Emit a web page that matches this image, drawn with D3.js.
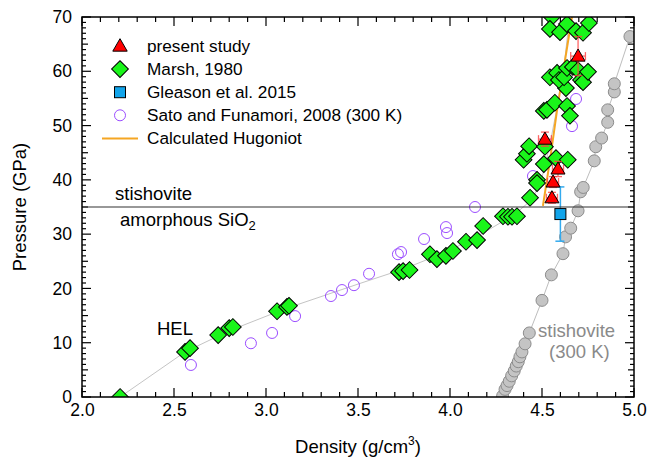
<!DOCTYPE html>
<html>
<head>
<meta charset="utf-8">
<script src="https://cdn.jsdelivr.net/npm/d3@7"></script>
</head>
<body style="margin:0">
<div id="chart"></div>
<script>
// present study (density, pressure, errD, errP)
const presentDensity = [4.696, 4.516, 4.587, 4.560, 4.554];
const presentPressure = [62.8, 47.5, 42.0, 39.6, 36.7];
const presentErrD = [0.04, 0.035, 0.03, 0.03, 0.03];
const presentErrP = [3.6, 1.3, 1.4, 1.0, 1.0];

// Marsh, 1980
const marshDensity = [2.207, 2.56, 2.587, 2.74, 2.80, 2.82, 3.06, 3.114, 3.125,
  3.723, 3.745, 3.78, 3.891, 3.929, 3.978, 4.016, 4.087, 4.147, 4.18,
  4.288, 4.315, 4.337, 4.364, 4.435, 4.473, 4.473, 4.40, 4.418, 4.43,
  4.516, 4.51, 4.576, 4.64, 4.51, 4.527, 4.57, 4.636, 4.652, 4.63,
  4.543, 4.582, 4.592, 4.62, 4.636, 4.668, 4.696, 4.712, 4.723, 4.75,
  4.554, 4.543, 4.598, 4.636, 4.685, 4.723, 4.755];
const marshPressure = [0, 8.3, 9.0, 11.4, 12.7, 12.9, 15.8, 16.6, 16.8,
  23.0, 23.2, 23.4, 26.3, 25.4, 26.0, 26.9, 28.6, 28.9, 31.5,
  33.3, 33.2, 33.2, 33.3, 36.7, 40.0, 39.4, 43.7, 44.8, 46.2,
  46.1, 42.9, 44.0, 43.7, 52.7, 52.9, 54.2, 53.6, 51.8, 56.9,
  58.9, 59.7, 58.4, 58.9, 60.6, 60.8, 60.2, 58.4, 58.0, 59.9,
  70.0, 67.8, 67.2, 68.7, 67.4, 67.1, 68.9];

// Gleason et al. 2015
const gleasonDensity = [4.60];
const gleasonPressure = [33.7];
const gleasonErrP = [5.0];

// Sato and Funamori, 2008 (300 K)
const satoDensity = [2.592, 2.918, 3.033, 3.158, 3.353, 3.413, 3.478, 3.56, 3.717,
  3.734, 3.859, 3.978, 3.984, 4.136, 4.451, 4.663, 4.685];
const satoPressure = [5.9, 9.9, 11.8, 14.9, 18.6, 19.7, 20.6, 22.7, 26.3,
  26.7, 29.1, 31.3, 30.2, 35.0, 40.7, 49.9, 54.9];

// stishovite (300 K)
const stishDensity = [4.286, 4.299, 4.31, 4.322, 4.335, 4.349, 4.36, 4.371, 4.38,
  4.391, 4.408, 4.431, 4.50, 4.551, 4.614, 4.628, 4.656, 4.696, 4.710,
  4.724, 4.784, 4.792, 4.824, 4.857, 4.857, 4.893, 4.893, 4.978];
const stishPressure = [0.2, 1.4, 2.1, 2.9, 3.9, 4.8, 5.7, 6.5, 7.4,
  8.3, 9.8, 11.8, 17.8, 22.5, 26.4, 29.5, 31.1, 34.3, 37.8,
  38.6, 43.5, 46.1, 47.7, 50.6, 52.9, 56.2, 57.7, 66.4];

// guide line through Marsh data
const fitDensity = [2.207, 2.56, 2.80, 3.10, 3.50, 3.75, 4.00, 4.20, 4.35, 4.45, 4.50, 4.54, 4.58, 4.62, 4.65];
const fitPressure = [0, 8.3, 12.2, 16.2, 20.8, 23.6, 27.0, 30.6, 33.6, 36.5, 40.5, 46, 53, 61, 70];

// Calculated Hugoniot
const hugDensity = [4.505, 4.545, 4.582, 4.625, 4.663];
const hugPressure = [35.2, 44.0, 52.9, 62.0, 70.0];

const phaseP = 35;
const xTicks = [2.0, 2.5, 3.0, 3.5, 4.0, 4.5, 5.0];
const yTicks = [0, 10, 20, 30, 40, 50, 60, 70];

const W = 647, H = 458;
const ml = 82, mt = 17;
const iw = 552, ih = 380;
const FONT = "Liberation Sans, Arial, Helvetica, sans-serif";

const svg = d3.select("#chart").append("svg").attr("width", W).attr("height", H)
  .attr("font-family", FONT);
const g = svg.append("g").attr("transform", `translate(${ml},${mt})`);

const x = d3.scaleLinear().domain([2, 5]).range([0, iw]);
const y = d3.scaleLinear().domain([0, 70]).range([ih, 0]);

// inward ticks on all four sides
const xMinor = d3.range(20, 51).map(v => v / 10).filter(v => Math.round(v * 10) % 5 !== 0);
const yMinor = d3.range(0, 71).filter(v => v % 5 !== 0);
const yMid = [5, 15, 25, 35, 45, 55, 65];
const tickGroup = g.append("g");
function tickSet(vals, len, side) {
  const sel = tickGroup.selectAll(null).data(vals).enter().append("line")
    .attr("stroke", "#000").attr("stroke-width", 1.2);
  if (side === "bottom") sel.attr("x1", d => x(d)).attr("x2", d => x(d)).attr("y1", ih).attr("y2", ih - len);
  if (side === "top") sel.attr("x1", d => x(d)).attr("x2", d => x(d)).attr("y1", 0).attr("y2", len);
  if (side === "left") sel.attr("x1", 0).attr("x2", len).attr("y1", d => y(d)).attr("y2", d => y(d));
  if (side === "right") sel.attr("x1", iw).attr("x2", iw - len).attr("y1", d => y(d)).attr("y2", d => y(d));
}
tickSet(xTicks, 9, "bottom"); tickSet(xMinor, 5, "bottom");
tickSet(xTicks, 9, "top"); tickSet(xMinor, 5, "top");
tickSet(yTicks, 9, "left"); tickSet(yMid, 6, "left"); tickSet(yMinor, 4, "left");
tickSet(yTicks, 9, "right"); tickSet(yMid, 6, "right"); tickSet(yMinor, 4, "right");

const zip = (a, b) => a.map((v, i) => [v, b[i]]);
const lineGen = d3.line().x(d => x(d[0])).y(d => y(d[1]));

svg.append("defs").append("clipPath").attr("id", "plotclip")
  .append("rect").attr("width", iw).attr("height", ih);
const plot = g.append("g").attr("clip-path", "url(#plotclip)");

// tick labels
const tfs = 17.5;
const xAx = g.append("g").attr("transform", `translate(0,${ih})`)
  .call(d3.axisBottom(x).tickValues(xTicks).tickSize(0).tickPadding(7).tickFormat(d3.format(".1f")));
xAx.select(".domain").remove();
xAx.attr("font-size", tfs).attr("font-family", FONT);
xAx.selectAll("text").attr("fill", "#000");
const yAx = g.append("g")
  .call(d3.axisLeft(y).tickValues(yTicks).tickSize(0).tickPadding(10).tickFormat(d3.format("d")));
yAx.select(".domain").remove();
yAx.attr("font-size", tfs).attr("font-family", FONT);
yAx.selectAll("text").attr("fill", "#000");

// lines
plot.append("path").datum(zip(fitDensity, fitPressure)).attr("d", lineGen)
  .attr("fill", "none").attr("stroke", "#c4c4c4").attr("stroke-width", 1);
plot.append("path").datum(zip(stishDensity, stishPressure)).attr("d", lineGen)
  .attr("fill", "none").attr("stroke", "#bdbdbd").attr("stroke-width", 1);
plot.append("path").datum(zip(hugDensity, hugPressure)).attr("d", lineGen)
  .attr("fill", "none").attr("stroke", "#f5a623").attr("stroke-width", 2);
g.append("line").attr("x1", 0).attr("x2", iw).attr("y1", y(phaseP)).attr("y2", y(phaseP))
  .attr("stroke", "#333").attr("stroke-width", 1.2);

// stishovite 300 K
plot.selectAll(".stish").data(zip(stishDensity, stishPressure)).enter().append("circle")
  .attr("cx", d => x(d[0])).attr("cy", d => y(d[1])).attr("r", 6)
  .attr("fill", "#c4c4c4").attr("stroke", "#8c8c8c").attr("stroke-width", 1);

// Sato
plot.selectAll(".sato").data(zip(satoDensity, satoPressure)).enter().append("circle")
  .attr("cx", d => x(d[0])).attr("cy", d => y(d[1])).attr("r", 5.5)
  .attr("fill", "none").attr("stroke", "#9b4dff").attr("stroke-width", 1);

// Marsh diamonds
const diamond = d3.symbol().type(d3.symbolSquare).size(140);
plot.selectAll(".marsh").data(zip(marshDensity, marshPressure)).enter().append("path")
  .attr("d", diamond)
  .attr("transform", d => `translate(${x(d[0])},${y(d[1])}) rotate(45)`)
  .attr("fill", "#1af51a").attr("stroke", "#000").attr("stroke-width", 1);

// Gleason
const gl = zip(gleasonDensity, gleasonPressure);
gl.forEach((d, i) => {
  const cx = x(d[0]), e = gleasonErrP[i];
  const eb = plot.append("g").attr("stroke", "#33aaee").attr("stroke-width", 1.5);
  eb.append("line").attr("x1", cx).attr("x2", cx).attr("y1", y(d[1] - e)).attr("y2", y(d[1] + e));
  [d[1] - e, d[1] + e].forEach(p => eb.append("line").attr("x1", cx - 5).attr("x2", cx + 4).attr("y1", y(p)).attr("y2", y(p)));
});
plot.selectAll(".gleason").data(gl).enter().append("rect")
  .attr("x", d => x(d[0]) - 5.5).attr("y", d => y(d[1]) - 5.5).attr("width", 11).attr("height", 11)
  .attr("fill", "#12a4ea").attr("stroke", "#000").attr("stroke-width", 1);

// present study with error bars
const pres = zip(presentDensity, presentPressure);
pres.forEach((d, i) => {
  const cx = x(d[0]), cy = y(d[1]);
  const ed = presentErrD[i], ep = presentErrP[i];
  const eb = plot.append("g").attr("stroke", "#ff4040").attr("stroke-width", 1.3).attr("opacity", 0.8);
  eb.append("line").attr("x1", cx).attr("x2", cx).attr("y1", y(d[1] - ep)).attr("y2", y(d[1] + ep));
  [d[1] - ep, d[1] + ep].forEach(p => eb.append("line").attr("x1", cx - 4).attr("x2", cx + 4).attr("y1", y(p)).attr("y2", y(p)));
  eb.append("line").attr("x1", x(d[0] - ed)).attr("x2", x(d[0] + ed)).attr("y1", cy).attr("y2", cy);
  [d[0] - ed, d[0] + ed].forEach(v => eb.append("line").attr("x1", x(v)).attr("x2", x(v)).attr("y1", cy - 4).attr("y2", cy + 4));
});
const tri = d3.symbol().type(d3.symbolTriangle).size(85);
plot.selectAll(".pres").data(pres).enter().append("path")
  .attr("d", tri)
  .attr("transform", d => `translate(${x(d[0])},${y(d[1]) + 1})`)
  .attr("fill", "#ff0000").attr("stroke", "#000").attr("stroke-width", 1);

// frame
g.append("rect").attr("width", iw).attr("height", ih)
  .attr("fill", "none").attr("stroke", "#000").attr("stroke-width", 1.5);

// annotations
const afs = 18.5;
g.append("text").attr("x", 115 - ml).attr("y", 200 - mt).attr("font-size", afs).text("stishovite");
const am = g.append("text").attr("x", 120 - ml).attr("y", 226 - mt).attr("font-size", afs).text("amorphous SiO");
am.append("tspan").attr("font-size", 13).attr("dy", 4).text("2");
g.append("text").attr("x", 157 - ml).attr("y", 335 - mt).attr("font-size", afs).text("HEL");
g.append("text").attr("x", 538 - ml).attr("y", 337 - mt).attr("font-size", afs).attr("fill", "#8a8a8a").text("stishovite");
g.append("text").attr("x", 549 - ml).attr("y", 358 - mt).attr("font-size", afs).attr("fill", "#8a8a8a").text("(300 K)");

// legend
const lfs = 17.2;
const leg = svg.append("g");
const rows = [
  {t: "present study", k: "tri"},
  {t: "Marsh, 1980", k: "dia"},
  {t: "Gleason et al. 2015", k: "sq"},
  {t: "Sato and Funamori, 2008 (300 K)", k: "circ"},
  {t: "Calculated Hugoniot", k: "line"}
];
rows.forEach((r, i) => {
  const cy = 46 + i * 23.1, cx = 120;
  if (r.k === "tri") leg.append("path").attr("d", d3.symbol().type(d3.symbolTriangle).size(90)())
    .attr("transform", `translate(${cx},${cy + 1})`).attr("fill", "#ff0000").attr("stroke", "#000");
  if (r.k === "dia") leg.append("path").attr("d", diamond())
    .attr("transform", `translate(${cx},${cy}) rotate(45)`).attr("fill", "#1af51a").attr("stroke", "#000");
  if (r.k === "sq") leg.append("rect").attr("x", cx - 5.5).attr("y", cy - 5.5).attr("width", 11).attr("height", 11)
    .attr("fill", "#12a4ea").attr("stroke", "#000");
  if (r.k === "circ") leg.append("circle").attr("cx", cx).attr("cy", cy).attr("r", 5.5)
    .attr("fill", "none").attr("stroke", "#9b4dff");
  if (r.k === "line") leg.append("line").attr("x1", 102).attr("x2", 138).attr("y1", cy).attr("y2", cy)
    .attr("stroke", "#f5a623").attr("stroke-width", 2);
  leg.append("text").attr("x", 147).attr("y", cy + 6).attr("font-size", lfs).text(r.t);
});

// axis titles
svg.append("text").attr("transform", `translate(26,${mt + ih / 2}) rotate(-90)`)
  .attr("text-anchor", "middle").attr("font-size", 18.5).text("Pressure (GPa)");
const xt = svg.append("text").attr("x", ml + iw / 2).attr("y", 453)
  .attr("text-anchor", "middle").attr("font-size", 18.5).text("Density (g/cm");
xt.append("tspan").attr("font-size", 12).attr("dy", -8).text("3");
xt.append("tspan").attr("dy", 8).text(")");
</script>
</body>
</html>
